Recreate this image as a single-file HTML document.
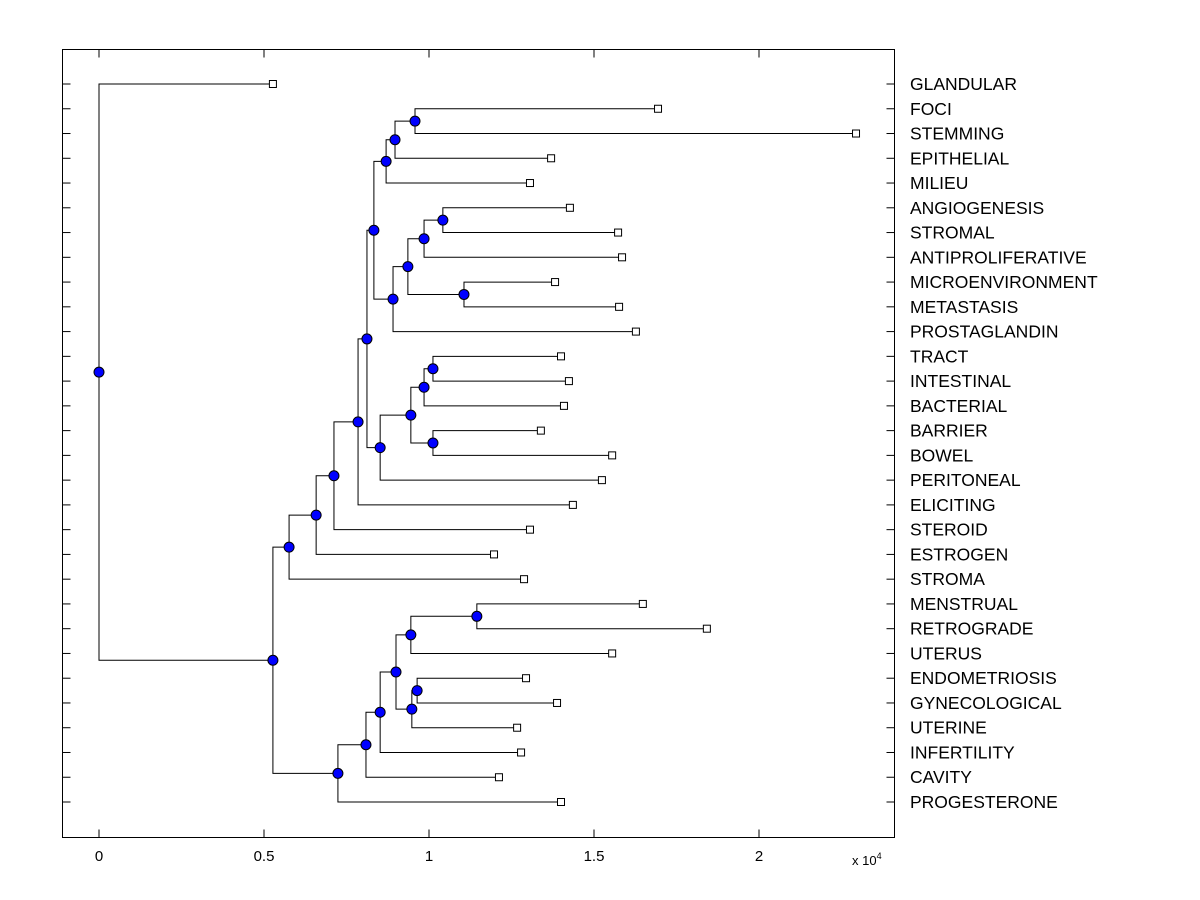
<!DOCTYPE html>
<html><head><meta charset="utf-8"><style>
body{margin:0;background:#fff;}
svg{display:block;font-family:"Liberation Sans",Arial,sans-serif;}
</style></head><body>
<svg id="chart" width="1200" height="900" viewBox="0 0 1200 900" xmlns="http://www.w3.org/2000/svg">
<rect x="0" y="0" width="1200" height="900" fill="#fff"/>
<rect x="62.5" y="49.5" width="832" height="788" fill="#fff" stroke="#000" stroke-width="1"/>
<g id="xaxis"></g>
<g id="links"></g>
<g id="nodes"></g>
<g id="labels"></g>
<text x="852" y="865" font-size="13">x 10<tspan dy="-6" font-size="9">4</tspan></text>
</svg>
<script>
const labels = ["GLANDULAR","FOCI","STEMMING","EPITHELIAL","MILIEU","ANGIOGENESIS","STROMAL","ANTIPROLIFERATIVE","MICROENVIRONMENT","METASTASIS","PROSTAGLANDIN","TRACT","INTESTINAL","BACTERIAL","BARRIER","BOWEL","PERITONEAL","ELICITING","STEROID","ESTROGEN","STROMA","MENSTRUAL","RETROGRADE","UTERUS","ENDOMETRIOSIS","GYNECOLOGICAL","UTERINE","INFERTILITY","CAVITY","PROGESTERONE"];
const leafValues = [5270,16940,22940,13700,13060,14270,15730,15850,13820,15760,16270,14000,14240,14090,13390,15550,15240,14360,13060,11970,12880,16480,18420,15550,12940,13880,12670,12790,12120,14000];
const mergeLeft  = [1,30,31,5,33,8,34,36,32,11,39,14,40,42,38,44,45,46,47,21,49,24,51,50,53,54,55,48,0];
const mergeRight = [2,3,4,6,7,9,35,10,37,12,13,15,41,16,43,17,18,19,20,22,23,25,26,52,27,28,29,56,57];
const mergeHeights = [9576,8970,8700,10420,9850,11060,9360,8910,8330,10120,9850,10120,9450,8520,8120,7850,7120,6580,5760,11450,9450,9640,9480,9000,8520,8090,7240,5270,0];
const xTicks = [0,5000,10000,15000,20000];
const xTickLabels = ["0","0.5","1","1.5","2"];

const NS="http://www.w3.org/2000/svg";
const X0=99, XS=0.033, Y0=84, YTOP=49.5, YBOT=837.5;
const n=labels.length;
const YS=(802-84)/(n-1);
const xs=v=>X0+v*XS;
const ys=i=>Y0+i*YS;
function mk(tag,attrs,parent){const e=document.createElementNS(NS,tag);for(const k in attrs)e.setAttribute(k,attrs[k]);parent.appendChild(e);return e;}

const gx=document.getElementById('xaxis');
xTicks.forEach((t,i)=>{
  const x=xs(t);
  const a=mk('line',{x1:x,x2:x,y1:YBOT,y2:YBOT-8,stroke:'#000'},gx);
  
  
  const b=mk('line',{x1:x,x2:x,y1:YTOP,y2:YTOP+8,stroke:'#000'},gx);
  
  
  const tx=mk('text',{x:x,y:861,'font-size':15,'text-anchor':'middle'},gx);
  tx.textContent=xTickLabels[i];
  
  
});

const gl=document.getElementById('labels');
labels.forEach((s,i)=>{
  const y=ys(i);
  const a=mk('line',{x1:62.5,x2:70.5,y1:y,y2:y,stroke:'#000'},gx);
  
  
  const b=mk('line',{x1:886.5,x2:894.5,y1:y,y2:y,stroke:'#000'},gx);
  
  
  const t=mk('text',{x:910,y:y+6,'font-size':17.5},gl);
  t.textContent=s;
  
  
});

const nx=[], ny=[];
for(let i=0;i<n;i++){nx.push(xs(leafValues[i]));ny.push(ys(i));}
mergeHeights.forEach((h,k)=>{
  const a=mergeLeft[k], b=mergeRight[k];
  nx.push(xs(h)); ny.push((ny[a]+ny[b])/2);
});
const glk=document.getElementById('links');
const gn=document.getElementById('nodes');
mergeHeights.forEach((h,k)=>{
  const id=n+k, a=mergeLeft[k], b=mergeRight[k], px=nx[id];
  const d=`M${nx[a]},${ny[a]}H${px}V${ny[b]}H${nx[b]}`;
  const p=mk('path',{d:d,fill:'none',stroke:'#000','stroke-width':1},glk);
  
  
});
mergeHeights.forEach((h,k)=>{
  const id=n+k;
  const c=mk('circle',{cx:nx[id],cy:ny[id],r:5,fill:'#0000ff',stroke:'#000','stroke-width':1},gn);
  
  
});
for(let i=0;i<n;i++){
  const r=mk('rect',{x:nx[i]-3.5,y:ny[i]-3.5,width:7,height:7,fill:'#fff',stroke:'#000','stroke-width':1},gn);
  
  
}
</script>
</body></html>
